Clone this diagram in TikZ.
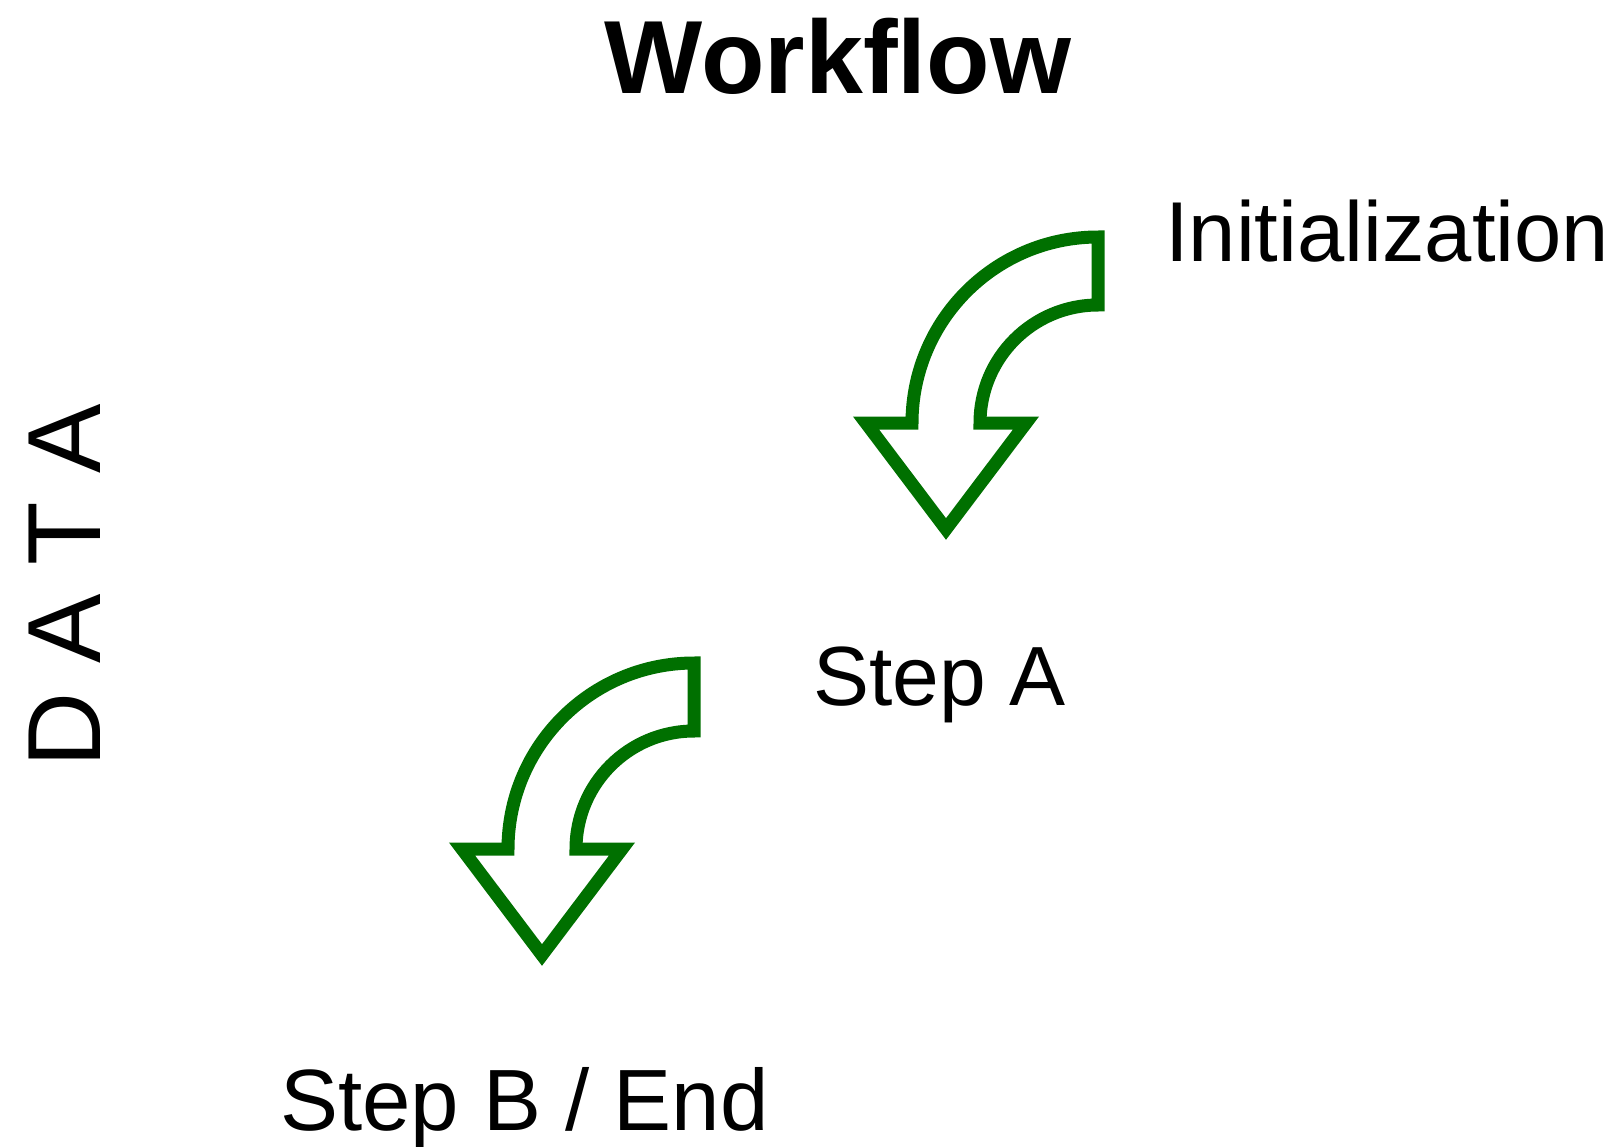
\documentclass[tikz,border=0pt]{standalone}
\usepackage{fontspec}
\setmainfont{Liberation Sans}
\usepackage{xcolor}
\usetikzlibrary{positioning,calc}

\definecolor{arrowgreen}{RGB}{0,112,0}

\tikzset{
    label/.style={inner sep=0pt, font=\fontsize{84}{90}\selectfont},
    arrowline/.style={draw=arrowgreen, line width=13pt, fill=white},
    curvearrow/.pic={
        \draw[arrowline] (0,186) arc[start angle=90, end angle=180, radius=186]
            -- (-232,0) -- (-152,-106) -- (-72,0) -- (-118,0)
            arc[start angle=180, end angle=90, radius=118] -- cycle;
    }
}

\begin{document}
\begin{tikzpicture}[x=1pt, y=1pt]
    \useasboundingbox (0,0) rectangle (1622,-1146);
    \node[label, anchor=base, font=\fontsize{104}{110}\selectfont\bfseries] (title) at (838,-93) {Workflow};
    \node[label, anchor=base west, font=\fontsize{104}{110}\selectfont, rotate=90] (data) at (100,-768) {D A T A};
    \node[label, anchor=base west, font=\fontsize{85}{90}\selectfont] (init) at (1165,-261) {Initialization};
    \node[label, anchor=base west] (stepa) at (813,-705) {Step A};
    \node[label, anchor=base west, font=\fontsize{87}{90}\selectfont] (stepb) at (280,-1130) {Step B / End};
    \pic at (1098,-423) {curvearrow};
    \pic at (694,-849) {curvearrow};
\end{tikzpicture}
\end{document}
